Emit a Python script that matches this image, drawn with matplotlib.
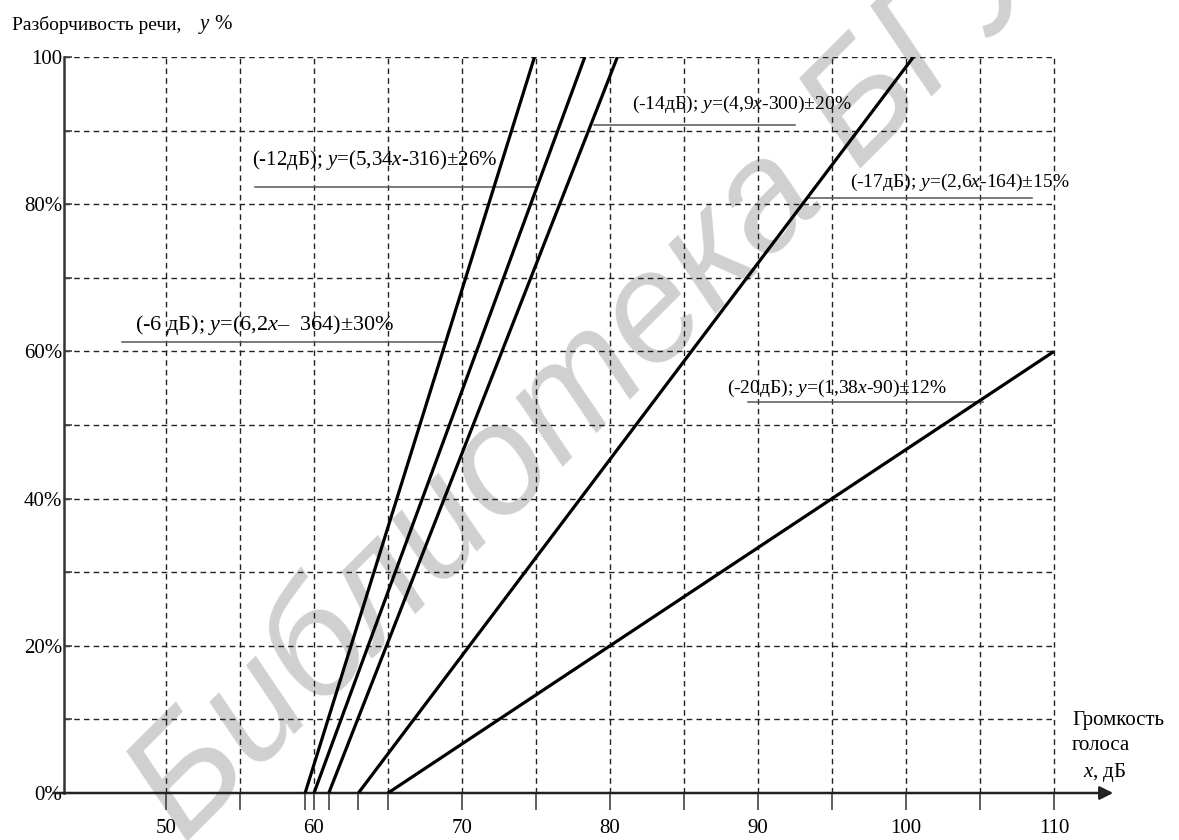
"""Разборчивость речи vs громкость голоса"""
import numpy as np
import matplotlib
matplotlib.use("Agg")
import matplotlib.pyplot as plt

plt.rcParams['font.family'] = ['Liberation Serif', 'DejaVu Serif']
plt.rcParams['mathtext.fontset'] = 'custom'
plt.rcParams['mathtext.rm'] = 'Liberation Serif'
plt.rcParams['mathtext.it'] = 'Liberation Serif:italic'

# data
noise_db = ['-6 дБ', '-12дБ', '-14дБ', '-17дБ', '-20дБ']
formulas = [r'(6,2$x$–  364)±30%', r'(5,34$x$-316)±26%', r'(4,9$x$-300)±20%',
            r'(2,6$x$-164)±15%', r'(1,38$x$-90)±12%']
x_start = [59.4, 60.0, 61.0, 63.0, 65.0]    # dB at y = 0 %
x_end = [74.9, 78.3, 80.5, 100.5, 110.0]    # dB at end of line
y_end = [100, 100, 100, 100, 60]            # % at end of line

x_ticks = [50, 55, 60, 65, 70, 75, 80, 85, 90, 95, 100, 105, 110]
x_ticklabels = ['50', '', '60', '', '70', '', '80', '', '90', '', '100', '', '110']
y_ticks = [0, 10, 20, 30, 40, 50, 60, 70, 80, 90, 100]
y_ticklabels = ['0%', '', '20%', '', '40%', '', '60%', '', '80%', '', '100']

# label placement: text x, text y, line x0, line x1, line y, font size
ann_pos = [
    (47.9, 63.6, 47.0, 68.9, 61.3, 16),
    (55.8, 86.0, 56.0, 74.9, 82.3, 15),
    (81.5, 93.6, 78.9, 92.5, 90.7, 14),
    (96.2, 82.9, 93.3, 108.5, 80.8, 14),
    (87.9, 55.0, 89.3, 105.2, 53.1, 14),
]

W, H = 1179, 840
fig = plt.figure(figsize=(W / 100, H / 100), dpi=100)

# watermark
fig.text(185 / W, (H - 845) / H, 'Библиотека БГУИР', family='Liberation Sans',
         style='italic', fontsize=112, color='#d0d0d0', rotation=45,
         rotation_mode='anchor', ha='left', va='baseline', zorder=0)

x0, x1 = 42.4, 114.0
ax = fig.add_axes([(166 - 7.6 * 14.8) / W, 47 / H, (x1 - x0) * 14.8 / W, 736 / H])
ax.set_xlim(x0, x1)
ax.set_ylim(0, 100)
ax.patch.set_alpha(0)
ax.set_zorder(1)

for s in ['top', 'right', 'bottom']:
    ax.spines[s].set_visible(False)
ax.spines['left'].set_position(('data', 43.1))
ax.spines['left'].set_linewidth(1.8)
ax.spines['left'].set_color('#333333')

# x axis with arrow
ax.annotate('', xy=(x1, 0), xytext=(x0, 0), xycoords='data',
            arrowprops=dict(arrowstyle='-|>', mutation_scale=20, lw=1.8,
                            color='#222222', shrinkA=0, shrinkB=0),
            annotation_clip=False)

# grid
dash = (0, (4, 3))
ax.vlines(x_ticks, 0, 100, colors='#222222', linestyles=dash, lw=1.0, zorder=1)
ax.hlines(y_ticks[1:], 43.1, 110, colors='#222222', linestyles=dash, lw=1.0, zorder=1)

ax.set_xticks(x_ticks)
ax.set_xticklabels(x_ticklabels, fontsize=15)
ax.set_xticks(x_start, minor=True)
ax.tick_params(axis='x', which='both', direction='out', length=12, width=1.2,
               color='#444444', pad=7)
ax.set_yticks(y_ticks)
ax.set_yticklabels(y_ticklabels, fontsize=15)
ax.tick_params(axis='y', direction='in', length=6, width=1.2, color='#444444', pad=1)

# regression lines
for xs, xe, ye in zip(x_start, x_end, y_end):
    ax.plot([xs, xe], [0, ye], color='black', lw=2.3, solid_capstyle='butt', zorder=3)

# labels with underlines
for nd, fm, (tx, ty, lx0, lx1, ly, fs) in zip(noise_db, formulas, ann_pos):
    ax.text(tx, ty, f'({nd}); $y$=' + fm, fontsize=fs, ha='left', va='center', zorder=4)
    ax.plot([lx0, lx1], [ly, ly], color='#555555', lw=1.1, zorder=2)

# axis captions
fig.text(12 / W, (H - 25) / H, 'Разборчивость речи,', fontsize=14, va='center')
fig.text(198 / W, (H - 25) / H, r'$y$ %', fontsize=15, va='center')
fig.text(1072 / W, (H - 720) / H, 'Громкость', fontsize=15, va='center')
fig.text(1072 / W, (H - 746) / H, 'голоса', fontsize=15, va='center')
fig.text(1083 / W, (H - 772) / H, r'$x$, дБ', fontsize=15, va='center')

fig.savefig('out.png', dpi=100)
